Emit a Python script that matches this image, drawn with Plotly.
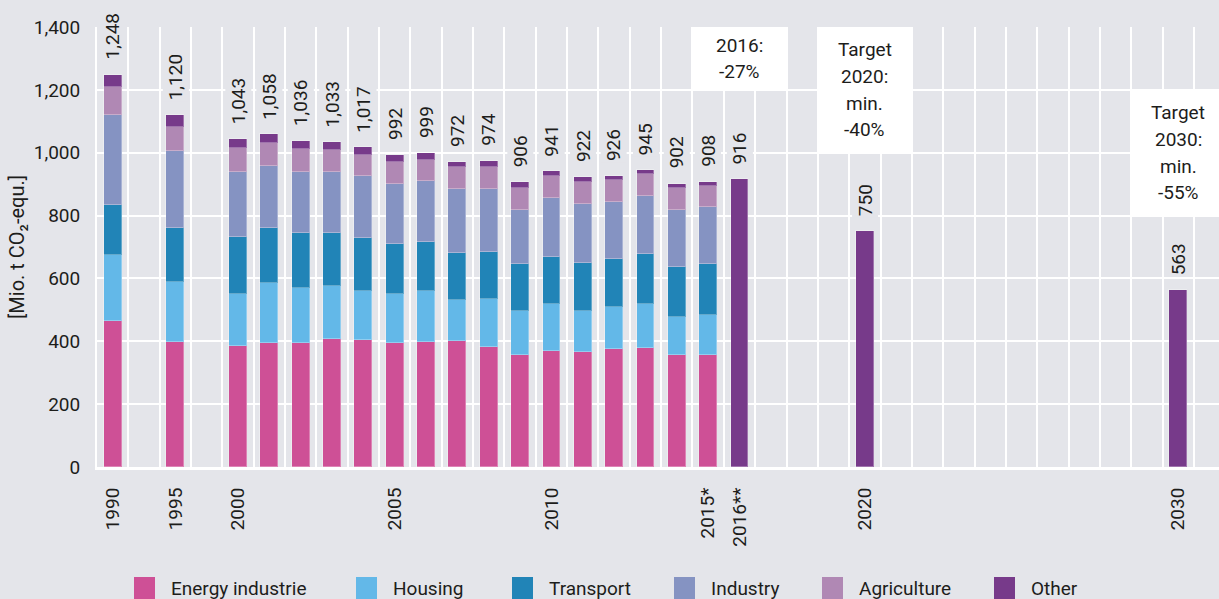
import plotly.graph_objects as go

# ---------------- data ----------------
slots = ["1990", "1991-94", "1995", "1996-99"] + [str(y) for y in range(2000, 2031)] + ["2031+"]

years = ["1990", "1995", "2000", "2001", "2002", "2003", "2004", "2005", "2006",
         "2007", "2008", "2009", "2010", "2011", "2012", "2013", "2014", "2015"]
energy = [465, 399, 384, 396, 396, 408, 403, 396, 397, 402, 382, 356, 368, 366, 376, 380, 357, 357]
housing = [211, 189, 168, 188, 175, 168, 156, 154, 162, 128, 152, 140, 150, 129, 132, 140, 119, 126]
transport = [159, 174, 180, 176, 175, 170, 169, 159, 156, 151, 150, 150, 150, 154, 153, 157, 160, 163]
industry = [286, 243, 206, 197, 192, 192, 197, 191, 194, 203, 202, 173, 187, 187, 182, 184, 182, 181]
agriculture = [88, 77, 76, 73, 73, 71, 69, 70, 69, 69, 70, 70, 70, 72, 69, 70, 71, 68]
other = [39, 38, 29, 28, 25, 24, 23, 22, 21, 19, 18, 17, 16, 14, 14, 14, 13, 13]

total_years = ["2016", "2020", "2030"]
total_values = [916, 750, 563]

label_years = years + total_years
label_values = [1248, 1120, 1043, 1058, 1036, 1033, 1017, 992, 999, 972, 974, 906,
                941, 922, 926, 945, 902, 908, 916, 750, 563]

tick_years = ["1990", "1995", "2000", "2005", "2010", "2015", "2016", "2020", "2030"]
tick_text = ["1990", "1995", "2000", "2005", "2010", "2015*", "2016**", "2020", "2030"]

box_years = ["2016", "2020", "2030"]
box_lines = [["2016:", "-27%"],
             ["Target", "2020:", "min.", "-40%"],
             ["Target", "2030:", "min.", "-55%"]]
box_low = [1200, 1000, 800]
box_high = [1400, 1400, 1200]

series_names = ["Energy industrie", "Housing", "Transport", "Industry", "Agriculture", "Other"]
series_values = [energy, housing, transport, industry, agriculture, other]
series_colors = ["#CE5096", "#63B8E8", "#2184B7", "#8593C2", "#B088B4", "#773A8A"]

# ---------------- style ----------------
BG = "#E4E5EA"
TXT = "#1D1D1B"
FONT = "Roboto"
FS = 19
L, T, B = 97, 27, 132
W, H = 1219, 599
PW, PH = W - L, H - T - B
LINE_H = 26.7

pos = {s: i for i, s in enumerate(slots)}
def px(y):
    return [pos[v] for v in y]

fig = go.Figure()
for name, vals, col in zip(series_names, series_values, series_colors):
    fig.add_trace(go.Bar(
        x=px(years), y=vals, name=name, width=0.57,
        marker=dict(color=col, line=dict(color="rgba(255,255,255,0.3)", width=1)),
        showlegend=False, hoverinfo="y+name"))
fig.add_trace(go.Bar(
    x=px(total_years), y=total_values, name="Total", width=0.57,
    marker=dict(color=series_colors[-1], line=dict(color="rgba(255,255,255,0.3)", width=1)),
    showlegend=False))

annotations = []
for yr, v in zip(label_years, label_values):
    annotations.append(dict(
        x=pos[yr], y=v, xref="x", yref="y", text=f"{v:,}", textangle=-90,
        showarrow=False, yanchor="bottom", xanchor="center", yshift=13,
        bgcolor=BG, borderpad=1, font=dict(family=FONT, size=FS, color=TXT)))

shapes = []
for yr, lines, lo, hi in zip(box_years, box_lines, box_low, box_high):
    c = pos[yr]
    shapes.append(dict(type="rect", xref="x", yref="y", x0=c - 1.5, x1=c + 1.5,
                       y0=lo, y1=hi, fillcolor="white", line=dict(width=0), layer="above"))
    n = len(lines)
    for i, ln in enumerate(lines):
        annotations.append(dict(x=c, y=(lo + hi) / 2, xref="x", yref="y", text=ln,
                                showarrow=False, xanchor="center", yanchor="middle",
                                yshift=-(i - (n - 1) / 2) * LINE_H,
                                font=dict(family=FONT, size=FS, color=TXT)))

# legend (manual, larger squares)
legend_px = [134, 356, 512, 674, 822, 994]
leg_y = 588
for name, col, lx in zip(series_names, series_colors, legend_px):
    shapes.append(dict(type="rect", xref="paper", yref="paper",
                       x0=(lx - L) / PW, x1=(lx + 21 - L) / PW,
                       y0=(H - B - (leg_y - 11)) / PH, y1=(H - B - (leg_y + 11)) / PH,
                       fillcolor=col, line=dict(width=0)))
    annotations.append(dict(xref="paper", yref="paper", x=(lx + 35 - L) / PW,
                            y=(H - B - leg_y) / PH, text=name, showarrow=False,
                            xanchor="left", yanchor="middle",
                            font=dict(family=FONT, size=FS, color=TXT)))

fig.update_layout(
    width=W, height=H, barmode="stack",
    paper_bgcolor=BG, plot_bgcolor=BG,
    margin=dict(l=L, r=0, t=T, b=B, autoexpand=False),
    font=dict(family=FONT, size=FS, color=TXT),
    shapes=shapes, annotations=annotations, bargap=0,
    xaxis=dict(range=[-0.5, 35.3], tickmode="array", tickvals=px(tick_years),
               ticktext=tick_text, tickangle=-90, showgrid=False, zeroline=False,
               showline=True, linecolor="white", linewidth=3, ticks="",
               ticklabelstandoff=10,
               minor=dict(tickmode="array", tickvals=[i - 0.5 for i in range(len(slots) + 1)],
                          showgrid=True, gridcolor="white", gridwidth=2, ticks=""),
               tickfont=dict(family=FONT, size=FS, color=TXT)),
    yaxis=dict(range=[0, 1400], dtick=200, tickformat=",", showgrid=True,
               gridcolor="white", gridwidth=2, zeroline=False, showline=True,
               linecolor="white", linewidth=2, ticks="", ticklabelstandoff=11,
               tickfont=dict(family=FONT, size=FS, color=TXT),
               title=dict(text="[Mio. t CO₂-equ.]", standoff=4,
                          font=dict(family=FONT, size=20, color=TXT))),
)

fig.write_html("out.html", config={"displayModeBar": False},
               post_script="document.body.style.margin='0';document.body.style.overflow='hidden';")
